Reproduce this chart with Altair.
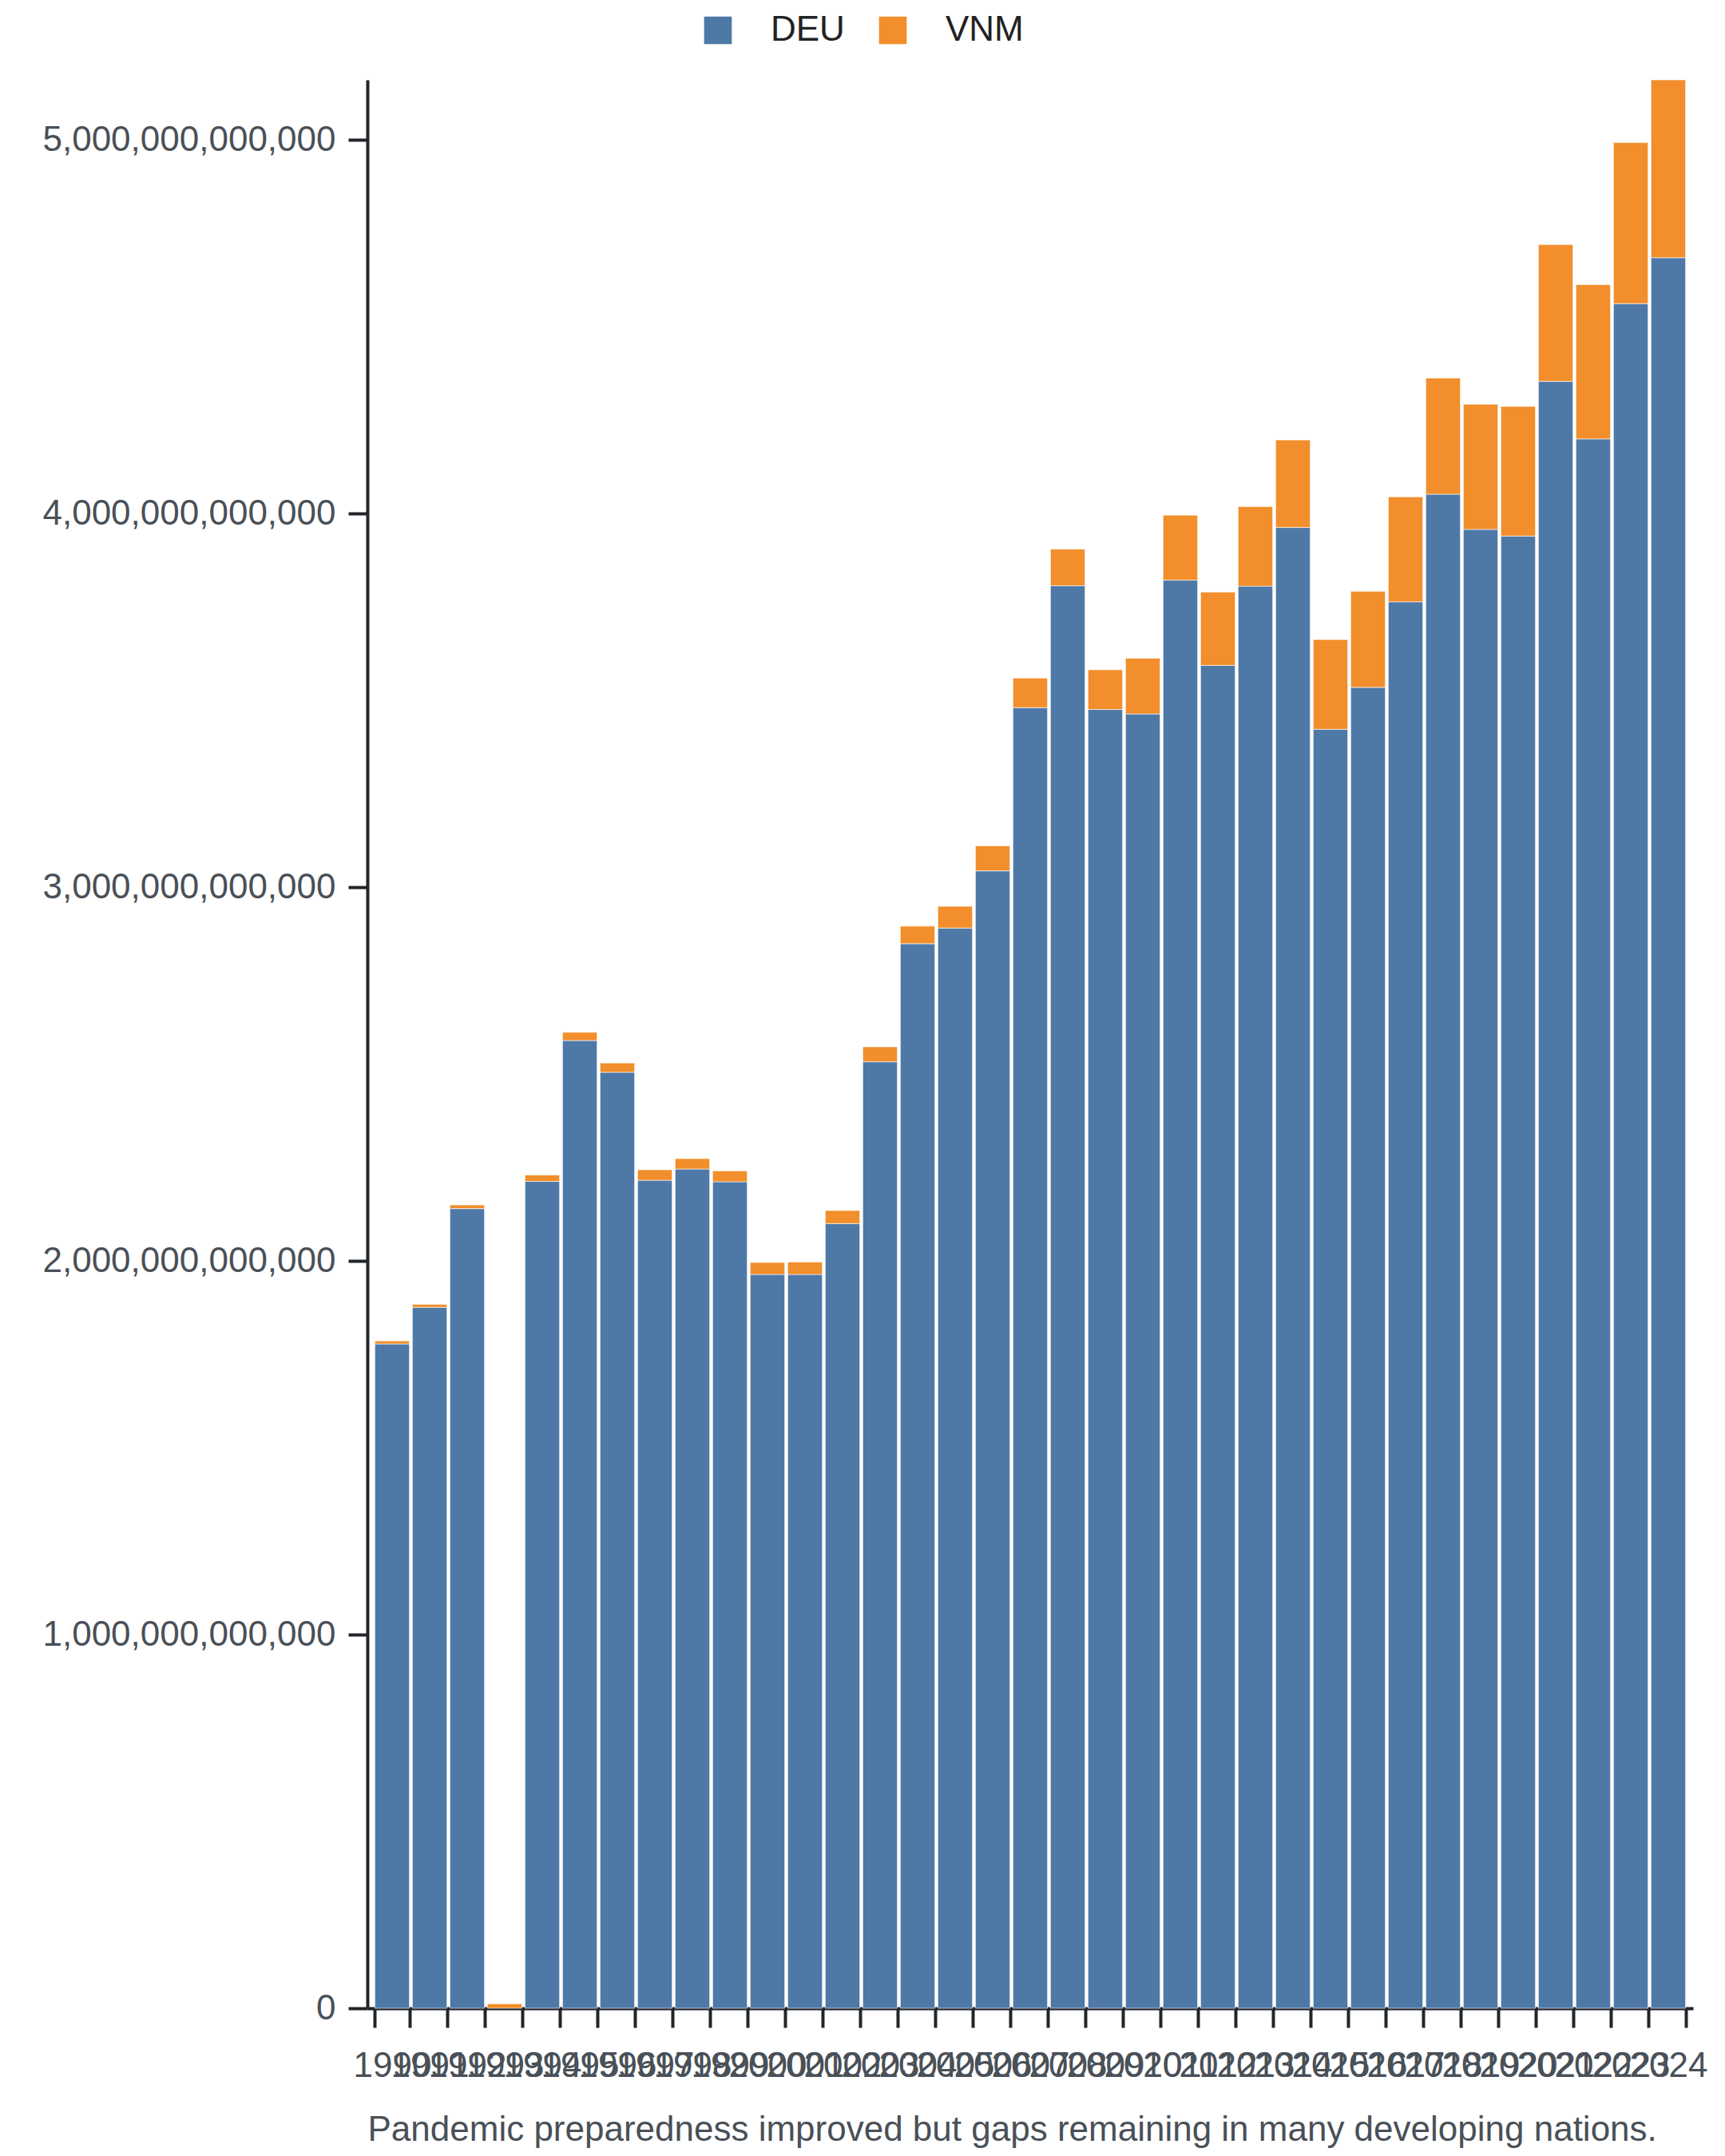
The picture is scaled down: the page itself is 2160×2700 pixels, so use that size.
import pandas as pd
import altair as alt

# GDP (trillions of current US$)
years = list(range(1990, 2025))
deu = [1.778, 1.876, 2.140, None, 2.213, 2.590, 2.505, 2.216, 2.246, 2.212,
       1.964, 1.964, 2.100, 2.533, 2.849, 2.891, 3.044, 3.481, 3.807, 3.476,
       3.464, 3.822, 3.594, 3.806, 3.963, 3.423, 3.535, 3.764, 4.052, 3.958,
       3.940, 4.354, 4.200, 4.562, 4.685]
vnm = [0.008, 0.008, 0.010, 0.012, 0.017, 0.022, 0.025, 0.028, 0.028, 0.029,
       0.032, 0.033, 0.035, 0.040, 0.047, 0.058, 0.067, 0.079, 0.098, 0.106,
       0.149, 0.174, 0.196, 0.213, 0.234, 0.240, 0.257, 0.281, 0.311, 0.335,
       0.347, 0.366, 0.413, 0.431, 0.476]
countries = ["DEU", "VNM"]
colors = ["#4e79a7", "#f28e2b"]
y_ticks = [0, 1e12, 2e12, 3e12, 4e12, 5e12]
x_title = "Pandemic preparedness improved but gaps remaining in many developing nations."

rows = []
for i, yr in enumerate(years):
    if deu[i] is not None:
        rows.append({"year": str(yr), "country": "DEU", "rank": 0, "gdp": deu[i] * 1e12})
    rows.append({"year": str(yr), "country": "VNM", "rank": 1, "gdp": vnm[i] * 1e12})
df = pd.DataFrame(rows)

FONT = "Liberation Sans"
DARK = "#212529"
GRAY = "#495057"

chart = alt.Chart(df).mark_bar(
    stroke="white", strokeWidth=1, strokeOpacity=0.6
).encode(
    x=alt.X("year:O",
            sort=[str(y) for y in years],
            scale=alt.Scale(paddingInner=0.08, paddingOuter=0.2),
            axis=alt.Axis(title=x_title, titleAnchor="start", titleFont=FONT,
                          titleFontSize=44, titleFontWeight="normal", titleColor=GRAY,
                          titlePadding=36, titleLimit=0,
                          labelAngle=0, labelOverlap=False, labelFont=FONT,
                          labelFontSize=44, labelColor=GRAY, labelPadding=26,
                          tickBand="extent", tickSize=24, tickWidth=4, tickColor=DARK,
                          domainColor=DARK, domainWidth=4, grid=False)),
    y=alt.Y("gdp:Q", stack="zero",
            scale=alt.Scale(nice=False, zero=True),
            axis=alt.Axis(title=None, values=y_ticks, format=",.0f", grid=False,
                          labelFont=FONT, labelFontSize=44, labelColor=GRAY,
                          labelLimit=0, labelPadding=16, tickSize=24, tickWidth=4,
                          tickColor=DARK, domainColor=DARK, domainWidth=4)),
    color=alt.Color("country:N",
                    scale=alt.Scale(domain=countries, range=colors),
                    legend=alt.Legend(title=None, orient="none", direction="horizontal",
                                      legendX=417, legendY=-84,
                                      symbolType="square", symbolSize=1200,
                                      symbolStrokeWidth=0, labelFont=FONT,
                                      labelFontSize=44, labelColor="#222222",
                                      labelOffset=44, columnPadding=38, padding=0)),
    order=alt.Order("rank:Q", sort="ascending"),
).properties(
    width=1660,
    height=2415,
    autosize=alt.AutoSizeParams(type="none"),
    padding={"left": 452, "top": 92, "right": 24, "bottom": 177},
).configure_view(stroke=None)

chart.save("out.html", embed_options={"renderer": "svg", "actions": False})
